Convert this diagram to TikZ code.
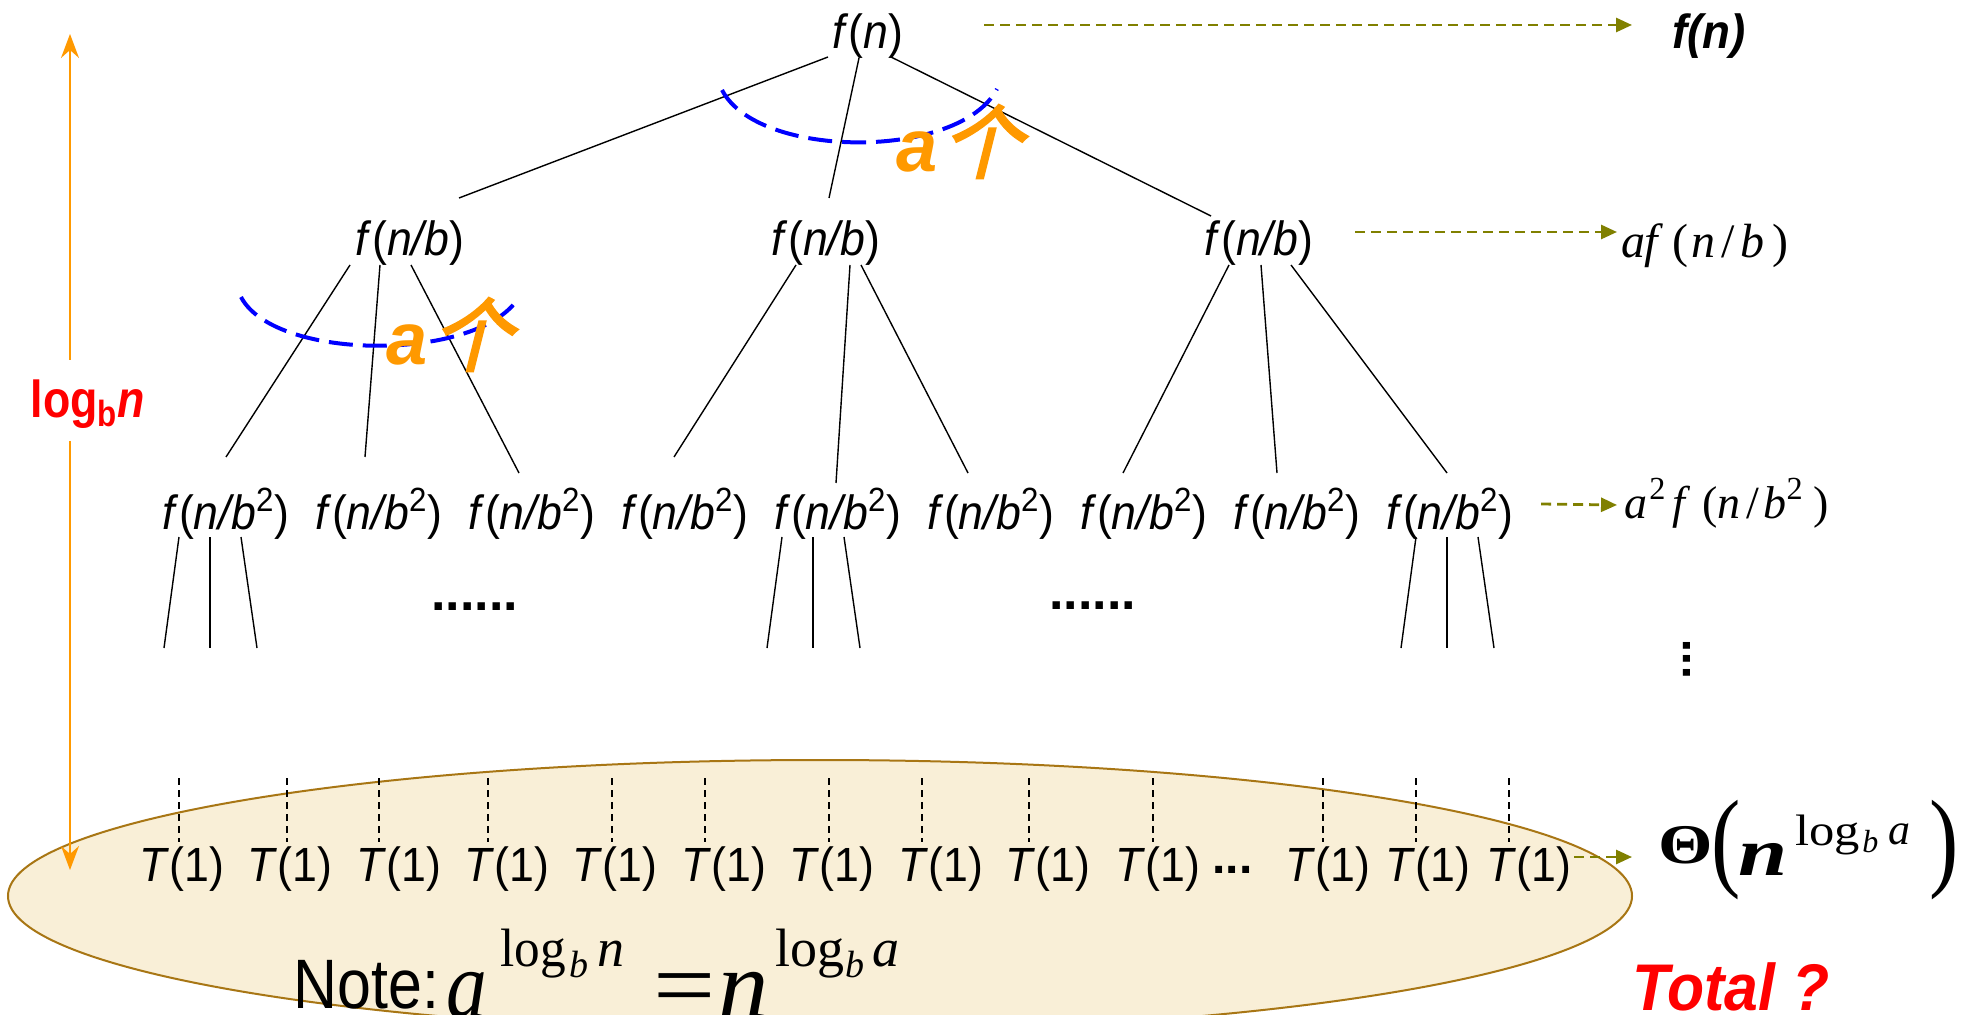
\documentclass[tikz,border=0pt]{standalone}
\usepackage{fontspec}
\setmainfont{Liberation Sans}
\newfontfamily\serif{Liberation Serif}
\newfontfamily\cjkf[FakeSlant=0.25,FakeBold=2.5]{Noto Sans CJK SC}
\usetikzlibrary{calc,arrows.meta}
\definecolor{olivea}{RGB}{128,128,0}
\definecolor{orangea}{RGB}{255,153,0}
\definecolor{ellfill}{RGB}{249,239,215}
\definecolor{elledge}{RGB}{168,118,20}
\newcommand\cond[1]{\scalebox{0.93}[1]{#1}}
\newcommand\TRfn{\textit{f}(\textit{n})}
\newcommand\TRfnb{\textit{f}(\textit{n/b})}
\newcommand\TRfnbb{\textit{f}(\textit{n/b}\textsuperscript{2})}
\newcommand\TRone{\textit{T}(1)}
\newcommand\TRacjk{\textbf{\textit{a}}\hspace{2pt}{\cjkf\fontsize{40}{42}\selectfont 个}}
\begin{document}
\begin{tikzpicture}[x=0.5pt,y=-0.5pt,
  tx/.style={inner sep=0pt, font=\fontsize{24}{28}\selectfont},
  tline/.style={line width=0.7pt},
  leafdash/.style={line width=0.6pt, dash pattern=on 3.5pt off 2.5pt},
  oarr/.style={draw=olivea, line width=1.4pt, dash pattern=on 5pt off 3pt, -{Triangle[length=8pt,width=7pt]}},
  oline/.style={draw=orangea, line width=1pt, -{Stealth[length=12pt,width=9pt,inset=4pt]}},
  bdash/.style={draw=blue, line width=2pt, dash pattern=on 12pt off 5pt},
  oalab/.style={inner sep=0pt, text=orangea, font=\fontsize{37}{40}\selectfont},
  eqbig/.style={inner sep=0pt, anchor=base west, font={\serif\fontsize{48}{52}\selectfont}},
  eqsup/.style={inner sep=0pt, anchor=base west, font={\serif\fontsize{27}{30}\selectfont}},
  eqsub/.style={inner sep=0pt, anchor=base west, font={\serif\fontsize{19}{21}\selectfont\itshape}},
  rlab/.style={inner sep=0pt, anchor=base west},
]
\useasboundingbox (0,0) rectangle (1962,1015);
\fill[white] (0,0) rectangle (1962,1015);

% bottom ellipse
\draw[fill=ellfill, draw=elledge, line width=1pt] (820,896) ellipse [x radius=406pt, y radius=68pt];

% tree nodes
\node[tx] (r) at (868,36) {\cond{\TRfn}};
\node[tx] (p1) at (410,243) {\cond{\TRfnb}};
\node[tx] (p2) at (826,243) {\cond{\TRfnb}};
\node[tx] (p3) at (1259,243) {\cond{\TRfnb}};
\foreach \i/\x in {1/226,2/379,3/532,4/685,5/838,6/991,7/1144,8/1297,9/1450}
  \node[tx] (q\i) at (\x,514) {\cond{\TRfnbb}};
\foreach \i/\x in {1/182,2/290,3/399,4/507,5/615,6/724,7/832,8/941,9/1048,10/1158,11/1328,12/1428,13/1529}
  \node[tx] (t\i) at (\x,869) {\cond{\TRone}};

% tree edges
\draw[tline] ($(r)+(-40,21)$) -- ($(p1)+(49,-45)$);
\draw[tline] ($(r)+(-9,22)$) -- ($(p2)+(3,-45)$);
\draw[tline] ($(r)+(23,21)$) -- ($(p3)+(-48,-27)$);
\draw[tline] ($(p1)+(-60,22)$) -- ($(q1)+(0,-57)$);
\draw[tline] ($(p1)+(-30,22)$) -- ($(q2)+(-14,-57)$);
\draw[tline] ($(p1)+(1,22)$) -- ($(q3)+(-13,-41)$);
\draw[tline] ($(p2)+(-30,22)$) -- ($(q4)+(-11,-57)$);
\draw[tline] ($(p2)+(24,22)$) -- ($(q5)+(-2,-31)$);
\draw[tline] ($(p2)+(35,22)$) -- ($(q6)+(-23,-41)$);
\draw[tline] ($(p3)+(-30,22)$) -- ($(q7)+(-21,-41)$);
\draw[tline] ($(p3)+(2,22)$) -- ($(q8)+(-20,-41)$);
\draw[tline] ($(p3)+(32,22)$) -- ($(q9)+(-3,-41)$);

% stubs below level 2
\foreach \n/\a/\b/\c in {q1/-47/-16/15, q5/-56/-25/6, q9/-34/-3/28} {
  \draw[tline] ($(\n)+(\a,23)$) -- ++(-15,111);
  \draw[tline] ($(\n)+(\b,23)$) -- ++(0,111);
  \draw[tline] ($(\n)+(\c,23)$) -- ++(16,111);
}

% dots
\node[inner sep=0pt, anchor=base west, font=\fontsize{26}{28}\selectfont\bfseries] (dots1) at (431,610) {......};
\node[inner sep=0pt, anchor=base west, font=\fontsize{26}{28}\selectfont\bfseries] (dots2) at (1049,609) {......};
\node[inner sep=0pt, font=\fontsize{24}{28}\selectfont\bfseries] (vdots) at (1687,659) {\rotatebox{90}{...}};
\node[inner sep=0pt, anchor=base west, font=\fontsize{24}{28}\selectfont\bfseries] (tdots) at (1212,873) {...};

% dashed lines to leaves
\foreach \i/\d in {1/-3,2/-3,3/-20,4/-19,5/-3,6/-19,7/-3,8/-19,9/-19,10/-5,11/-5,12/-12,13/-20}
  \draw[leafdash] ($(t\i)+(\d,-91)$) -- ($(t\i)+(\d,-27)$);

% blue arcs
\draw[bdash] (722,90) .. controls (758,160) and (960,160) .. (997,89);
\draw[bdash] (241,297) .. controls (275,362) and (480,362) .. (519,297);

% a-ge labels
\node[oalab, anchor=base west] (ag1) at (896,172) {\TRacjk};
\node[oalab, anchor=base west] (ag2) at (386,365) {\TRacjk};

% height arrow
\coordinate (vt) at (70,34);
\coordinate (vb) at (70,870);
\node[inner sep=0pt, text=red, font=\fontsize{26}{30}\selectfont\bfseries] (lg) at (88,404) {\scalebox{0.86}[1]{log\textsubscript{b}\textit{n}}};
\draw[oline] ($(vt |- lg)+(0,-44)$) -- (vt);
\draw[oline] ($(vb |- lg)+(0,37)$) -- (vb);

% right column
\node[inner sep=0pt, anchor=west, font=\fontsize{24}{28}\selectfont\bfseries\itshape] (fr) at (1672,36) {\scalebox{0.95}[1]{f(n)}};
\node[rlab, font={\serif\fontsize{24}{28}\selectfont}] (af) at (1621,258)
  {\textit{a}\kern-0.5pt\textit{f}\kern4.5pt(\kern1.5pt\textit{n}\kern3pt/\kern3pt\textit{b}\kern4pt)};
\node[rlab, font={\serif\fontsize{23}{27}\selectfont}] (a2f) at (1624,518)
  {\textit{a}\kern1pt\textsuperscript{2}\kern3pt\textit{f}\kern6pt(\textit{n}\kern3pt/\kern2pt\textit{b}\textsuperscript{2}\kern5pt)};

% Theta
\node[inner sep=0pt, anchor=base west, font={\serif\fontsize{28}{30}\selectfont\bfseries}] (th) at (1658,863) {\scalebox{1.25}[1]{Θ}};
\node[inner sep=0pt, anchor=base west, font={\serif\fontsize{55}{58}\selectfont}] (lp) at (1711,876) {\scalebox{0.8}[1]{(}};
\node[inner sep=0pt, anchor=base west, font={\serif\fontsize{34}{36}\selectfont\bfseries\itshape}] (nn) at (1738,875) {\scalebox{1.3}[1]{n}};
\node[inner sep=0pt, anchor=base west, font={\serif\fontsize{22}{26}\selectfont}] (lg2) at (1795,845) {\scalebox{1.15}[1]{log}};
\node[inner sep=0pt, anchor=base west, font={\serif\fontsize{16}{18}\selectfont\itshape}] (bb2) at (1862,852) {b};
\node[inner sep=0pt, anchor=base west, font={\serif\fontsize{22}{26}\selectfont\itshape}] (aa2) at (1888,844) {a};
\node[inner sep=0pt, anchor=base west, font={\serif\fontsize{55}{58}\selectfont}] (rp) at (1929,876) {\scalebox{0.8}[1]{)}};

% olive arrows
\draw[oarr] ($(r)+(116,-11)$) -- ($(fr.west)+(-40,-11)$);
\draw[oarr] ($(p3)+(96,-11)$) -- ($(af.base west)+(-4,-26)$);
\draw[oarr] ($(q9)+(91,-10)$) -- ($(a2f.base west)+(-7,-13)$);
\draw[oarr] ($(t13)+(45,-12)$) -- ($(th.base west)+(-26,-6)$);

% note formula
\node[inner sep=0pt, anchor=base west, font=\fontsize{35}{38}\selectfont] (note) at (293,1008) {\scalebox{0.87}[1]{Note:}};
\node[eqbig] (ea) at (446,1017) {\scalebox{0.85}[1]{\itshape a}};
\node[eqsup] (el1) at (500,966) {\scalebox{0.95}[1]{log}};
\node[eqsub] (eb1) at (569,977) {b};
\node[eqsup] (en1) at (597,966) {\itshape n};
\node[eqbig] (eq) at (653,1017) {\scalebox{1.15}[1]{=}};
\node[eqbig] (en) at (718,1017) {\scalebox{1.05}[1]{\itshape n}};
\node[eqsup] (el2) at (775,966) {log};
\node[eqsub] (eb2) at (845,977) {b};
\node[eqsup] (ea2) at (872,966) {\itshape a};

% total
\node[inner sep=0pt, anchor=base west, text=red, font=\fontsize{33}{36}\selectfont\bfseries\itshape] (tot) at (1632,1010) {\scalebox{0.92}[1]{Total ?}};
\end{tikzpicture}
\end{document}
